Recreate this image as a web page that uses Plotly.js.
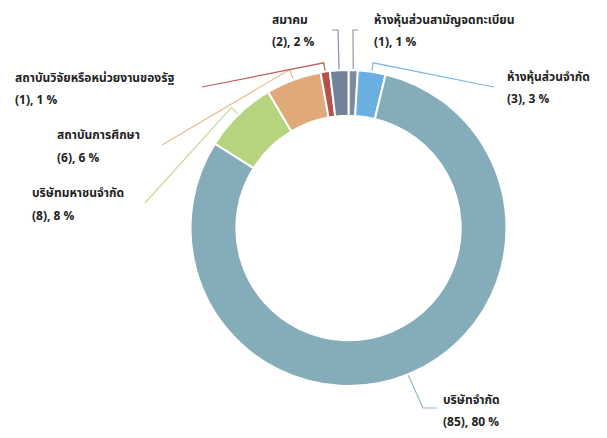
<!DOCTYPE html>
<html><head><meta charset="utf-8">
<script src="https://cdn.plot.ly/plotly-3.0.1.min.js"></script>
<style>body{margin:0;background:#fff}#c{width:607px;height:438px}</style>
</head><body><div id="c"></div>
<script>
const categories = ["ห้างหุ้นส่วนสามัญจดทะเบียน","ห้างหุ้นส่วนจำกัด","บริษัทจำกัด","บริษัทมหาชนจำกัด","สถาบันการศึกษา","สถาบันวิจัยหรือหน่วยงานของรัฐ","สมาคม"];
const counts = [1, 3, 85, 8, 6, 1, 2];
const sliceColors = ["#7b8ba1","#6aafe2","#85adb9","#b5d47d","#e0a979","#b5524a","#728399"];
const lineColors  = ["#8a9ab0","#7ab8e6","#93b6c0","#c3dc96","#e8bb94","#bc6058","#8393a8"];

const W = 607, H = 438;
const cx = 348.5, cy = 228, R = 158;
// label placement (layout only): text left x, line-1 y, line-2 y, tick radius, extra leader points
const labelPos = [
  {x:372, y1:20, y2:42, tick:198, pts:[[353,30],[358,30]]},
  {x:505, y1:77, y2:99, tick:167, pts:[[494,87]]},
  {x:441, y1:400, y2:422, tick:158, pts:[[423,408],[437,408]]},
  {x:30,  y1:193, y2:216, tick:168, pts:[[145,203]]},
  {x:55,  y1:135, y2:158, tick:169, pts:[[162,145]]},
  {x:13,  y1:78,  y2:100, tick:167, pts:[[202,87]]},
  {x:270, y1:20,  y2:42,  tick:198, pts:[[338,30],[332,30]]}
];

const total = counts.reduce((a,b)=>a+b,0);
const pct = counts.map(v=>Math.round(100*v/total));

const px = x => x / W;
const py = y => 1 - y / H;
const fontSpec = {family:"Noto Sans Thai, Noto Sans, Loma, Garuda, sans-serif", size:12, color:"#222222", weight:700};

const annotations = [], shapes = [];
let cum = 0;
counts.forEach((v,i)=>{
  const mid = (cum + v/2) / total * 2 * Math.PI; cum += v;
  const L = labelPos[i];
  const e = r => [cx + r*Math.sin(mid), cy - r*Math.cos(mid)];
  const p0 = e(R+1);
  let pts = [p0];
  if (L.tick > R) {
    const p1 = e(L.tick);
    if (L.tick > 190) p1[0] = L.pts[0][0];
    pts.push(p1);
  }
  pts = pts.concat(L.pts);
  const path = pts.map((p,k)=>(k?"L":"M")+px(p[0]).toFixed(5)+","+py(p[1]).toFixed(5)).join(" ");
  shapes.push({type:"path", xref:"paper", yref:"paper", path:path, line:{color:lineColors[i], width:1.2}});
  annotations.push({xref:"paper", yref:"paper", x:px(L.x), y:py(L.y1), xanchor:"left", yanchor:"middle",
    text:categories[i], showarrow:false, font:fontSpec});
  annotations.push({xref:"paper", yref:"paper", x:px(L.x), y:py(L.y2), xanchor:"left", yanchor:"middle",
    text:"("+counts[i]+"), "+pct[i]+" %", showarrow:false, font:fontSpec});
});

const data = [{
  type:"pie", labels:categories, values:counts, hole:0.71, sort:false, direction:"clockwise", rotation:0,
  marker:{colors:sliceColors, line:{color:"#ffffff", width:2}},
  textinfo:"none", hoverinfo:"label+value+percent",
  domain:{x:[(cx-R)/W,(cx+R)/W], y:[(H-(cy+R))/H,(H-(cy-R))/H]}
}];
const layout = {width:W, height:H, margin:{l:0,r:0,t:0,b:0}, showlegend:false,
  paper_bgcolor:"#ffffff", annotations:annotations, shapes:shapes};
Plotly.newPlot("c", data, layout, {displayModeBar:false, staticPlot:true});
</script></body></html>
